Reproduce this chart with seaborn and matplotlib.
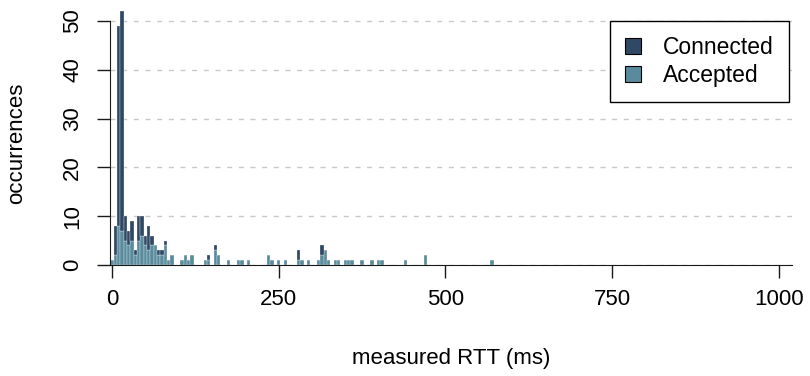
import pandas as pd
import seaborn as sns
import matplotlib.pyplot as plt

# RTT bins (bin centre in ms, bins are 5 ms wide) that hold at least one sample
rtt_ms = [0, 5, 10, 15, 20, 25, 30, 35, 40, 45, 50, 55, 60, 65, 70, 75, 80, 85, 90,
          105, 110, 115, 120, 140, 145, 155, 160, 175, 190, 195, 205, 235, 240,
          250, 260, 280, 285, 295, 310, 315, 320, 325, 335, 340, 350, 355, 360,
          375, 390, 400, 405, 440, 470, 570]
accepted = [1, 2, 8, 7, 5, 4, 5, 2, 5, 6, 4, 3, 4, 4, 2, 2, 4, 1, 2,
            1, 2, 1, 2, 1, 1, 3, 2, 1, 1, 1, 1, 2, 1,
            1, 1, 1, 1, 1, 1, 2, 3, 1, 1, 1, 1, 1, 1,
            1, 1, 1, 1, 1, 2, 1]
connected = [0, 6, 41, 45, 5, 3, 4, 1, 5, 4, 2, 5, 2, 0, 1, 1, 1, 0, 0,
             0, 0, 0, 0, 0, 1, 1, 0, 0, 0, 0, 0, 0, 0,
             0, 0, 2, 0, 0, 0, 2, 0, 0, 0, 0, 0, 0, 0,
             0, 0, 0, 0, 0, 0, 0]
series = ['Connected', 'Accepted']
x_ticks = [0, 250, 500, 750, 1000]
y_ticks = [0, 10, 20, 30, 40, 50]

colors = {'Connected': '#2f4863', 'Accepted': '#598b9c'}

df = pd.concat([
    pd.DataFrame({'rtt': rtt_ms, 'count': connected, 'kind': 'Connected'}),
    pd.DataFrame({'rtt': rtt_ms, 'count': accepted, 'kind': 'Accepted'}),
])

sns.set_style('ticks')
plt.rcParams['font.family'] = ['Liberation Sans', 'DejaVu Sans']
plt.rcParams['font.size'] = 16
plt.rcParams['text.color'] = 'black'
plt.rcParams['axes.labelcolor'] = 'black'
plt.rcParams['xtick.labelcolor'] = 'black'
plt.rcParams['ytick.labelcolor'] = 'black'

fig = plt.figure(figsize=(8.1, 3.76), dpi=100)
ax = fig.add_axes([0.1358, 0.2952, 0.842, 0.6878])

sns.histplot(data=df, x='rtt', weights='count', hue='kind', hue_order=series,
             multiple='stack', binwidth=5, binrange=(-2.5, 1022.5),
             palette=colors, alpha=1, edgecolor='white', linewidth=0.2, ax=ax)

ax.set_xlim(-3, 1020)
ax.set_ylim(0, 53)
ax.set_xticks(x_ticks)
ax.set_yticks(y_ticks)
ax.yaxis.grid(True, color='#c8c8c8', linestyle=(0, (3.6, 4.8)), linewidth=1)
ax.set_axisbelow(True)

for side in ['top', 'right']:
    ax.spines[side].set_visible(False)
ax.spines['left'].set_bounds(0, 50)
ax.spines['left'].set_color('#1a1a1a')
ax.spines['bottom'].set_color('#1a1a1a')

ax.tick_params(axis='both', length=9.4, width=1, color='#1a1a1a', labelsize=16)
ax.tick_params(axis='y', pad=10, labelrotation=90)
ax.tick_params(axis='x', pad=8)
for lab in ax.get_yticklabels():
    lab.set_va('center')

ax.set_xlabel('measured RTT (ms)', fontsize=16)
ax.set_ylabel('occurrences', fontsize=16)
ax.xaxis.set_label_coords(0.5, -0.321)
ax.yaxis.set_label_coords(-0.121, 0.472)

sns.move_legend(ax, 'upper right', bbox_to_anchor=(0.9956, 0.9435),
                title=None, frameon=True, fancybox=False, fontsize=16.5,
                borderaxespad=0, handlelength=0.72, handleheight=0.72,
                handletextpad=0.95, labelspacing=0.2, borderpad=0.66)
leg = ax.get_legend()
leg.get_frame().set_edgecolor('black')
leg.get_frame().set_linewidth(1)
leg.get_frame().set_alpha(1)
for patch in leg.get_patches():
    patch.set_edgecolor('black')
    patch.set_linewidth(0.8)

plt.savefig('out.png', dpi=100)
